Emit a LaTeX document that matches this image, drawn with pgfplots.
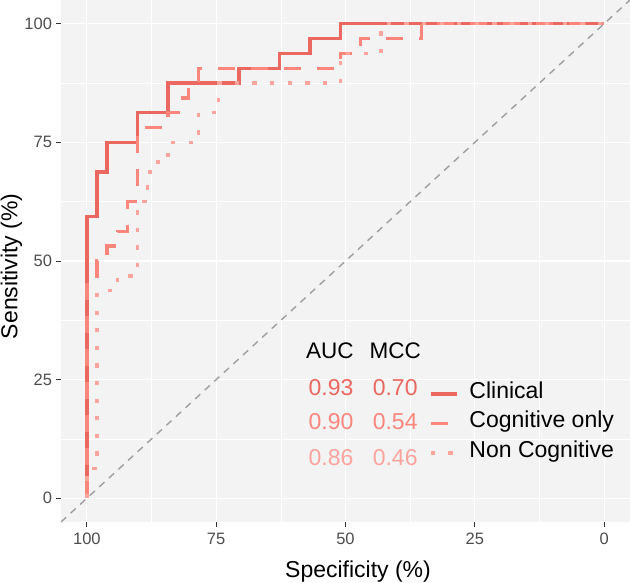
\documentclass[border=0pt]{standalone}
\usepackage{pgfplots}
\pgfplotsset{compat=1.18}
\usepackage{fontspec}
\setmainfont{Liberation Sans}
\definecolor{clin}{HTML}{EB6860}
\definecolor{cogn}{HTML}{FC857C}
\definecolor{ncog}{HTML}{FDA49D}
\definecolor{panel}{HTML}{F3F3F3}
\definecolor{ticklab}{HTML}{4D4D4D}
\definecolor{tickc}{HTML}{333333}
\begin{document}
\begin{tikzpicture}
\begin{axis}[
  at={(0,0)}, anchor=south west,
  scale only axis, width=569bp, height=522bp,
  x dir=reverse,
  xmin=-5, xmax=105, ymin=-5, ymax=105,
  xtick={0,25,50,75,100}, ytick={0,25,50,75,100},
  minor xtick={12.5,37.5,62.5,87.5}, minor ytick={12.5,37.5,62.5,87.5},
  grid=both,
  major grid style={white, line width=1.2bp},
  minor grid style={white, line width=0.6bp},
  axis background/.style={fill=panel},
  axis line style={draw=none},
  tick align=outside, tick pos=left,
  major tick length=4.5bp, minor tick length=0pt,
  tick style={tickc, line width=0.9bp},
  /pgf/number format/assume math mode=true,
  ticklabel style={font=\fontsize{16.5bp}{18bp}\selectfont, text=ticklab},
  xticklabel style={yshift=-3bp},
  yticklabel style={xshift=-1bp},
  xlabel={Specificity (\%)}, ylabel={Sensitivity (\%)},
  label style={font=\fontsize{23bp}{27bp}\selectfont},
  xlabel style={at={(axis description cs:0.522,-0.1067)}, anchor=base},
  ylabel style={at={(axis description cs:-0.0765,0.49)}, anchor=base},
  legend style={at={(axis cs:33.9,24.6)}, anchor=north west, draw=none, fill=none,
    inner sep=0pt, row sep=8bp, column sep=10.5bp,
    font=\fontsize{23bp}{27bp}\selectfont,
    nodes={inner sep=0pt, text height=16.5bp, text depth=5bp}},
  legend cell align=left,
  legend image code/.code={\draw[#1] (0bp,-1.5bp) -- (26.6bp,-1.5bp);},
]
\addplot[forget plot, color=gray!75, line width=1.4bp, dash pattern=on 7bp off 6bp] coordinates {(105,-5) (-5,105)};
\addplot[clin, line width=3.4bp, line cap=butt, line join=miter] coordinates {
(100,0)(100,59.375)(98.04,59.375)(98.04,68.75)(96.08,68.75)(96.08,75)(90.2,75)(90.2,81.25)(84.31,81.25)(84.31,87.5)(70.59,87.5)(70.59,90.625)(62.75,90.625)(62.75,93.75)(56.86,93.75)(56.86,96.875)(50.98,96.875)(50.98,100)(0,100)};
\addlegendentry{Clinical}
\addplot[cogn, line width=3.4bp, line cap=butt, line join=miter, dash pattern=on 17bp off 16bp] coordinates {
(100,0)(100,46.875)(98.04,46.875)(98.04,50)(96.08,50)(96.08,53.125)(94.12,53.125)(94.12,56.25)(92.16,56.25)(92.16,62.5)(90.2,62.5)(90.2,78.125)(84.31,78.125)(84.31,81.25)(82.35,81.25)(82.35,84.375)(80.39,84.375)(80.39,87.5)(78.43,87.5)(78.43,90.625)(50.98,90.625)(50.98,93.75)(47.06,93.75)(47.06,96.875)(35.29,96.875)(35.29,100)(0,100)};
\addlegendentry{Cognitive only}
\addplot[ncog, line width=3.4bp, line cap=butt, line join=miter, dash pattern=on 4.3bp off 13.3bp] coordinates {
(100,0)(100,6.25)(98.04,6.25)(98.04,43.75)(94.12,43.75)(94.12,46.875)(90.2,46.875)(90.2,62.5)(88.24,62.5)(88.24,68.75)(86.27,68.75)(86.27,71.875)(84.31,71.875)(84.31,75)(78.43,75)(78.43,81.25)(74.51,81.25)(74.51,87.5)(50.98,87.5)(50.98,93.75)(43.14,93.75)(43.14,100)(0,100)};
\addlegendentry{Non Cognitive}
\node[anchor=base west, font=\fontsize{22.5bp}{26bp}\selectfont] at (axis cs:58.3,29.4) {AUC};
\node[anchor=base west, font=\fontsize{22.5bp}{26bp}\selectfont] at (axis cs:46.0,29.4) {MCC};
\node[anchor=base west, font=\fontsize{23bp}{26bp}\selectfont, text=clin] at (axis cs:57.8,21.7) {0.93};
\node[anchor=base west, font=\fontsize{23bp}{26bp}\selectfont, text=clin] at (axis cs:45.4,21.7) {0.70};
\node[anchor=base west, font=\fontsize{23bp}{26bp}\selectfont, text=cogn] at (axis cs:57.8,14.5) {0.90};
\node[anchor=base west, font=\fontsize{23bp}{26bp}\selectfont, text=cogn] at (axis cs:45.4,14.5) {0.54};
\node[anchor=base west, font=\fontsize{23bp}{26bp}\selectfont, text=ncog] at (axis cs:57.8,6.85) {0.86};
\node[anchor=base west, font=\fontsize{23bp}{26bp}\selectfont, text=ncog] at (axis cs:45.4,6.85) {0.46};
\end{axis}
\pgfresetboundingbox
\path[use as bounding box] (-61bp,-61bp) rectangle (569bp,522bp);
\end{tikzpicture}
\end{document}
